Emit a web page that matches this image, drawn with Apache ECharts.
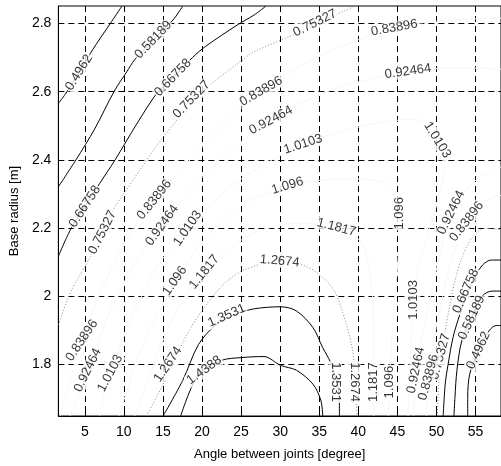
<!DOCTYPE html>
<html><head><meta charset="utf-8">
<script src="https://cdn.jsdelivr.net/npm/echarts@6/dist/echarts.min.js"></script>
<style>html,body{margin:0;padding:0;background:#fff}#c{width:501px;height:466px}</style>
</head><body><div id="c"></div>
<script>
// ---- tick labels ----
const xTicks = [5, 10, 15, 20, 25, 30, 35, 40, 45, 50, 55];
const yTicks = [1.8, 2.0, 2.2, 2.4, 2.6, 2.8];
const xTitle = 'Angle between joints [degree]';
const yTitle = 'Base radius [m]';

// ---- contour lines, [angle, radius] points ----
const c04962_left = [[1.62,2.566],[2.49,2.592],[4.25,2.656],[6.0,2.723],[7.88,2.787],[9.76,2.851]];
const c04962_right = [[59.2,1.914],[57.63,1.914],[56.75,1.899],[55.38,1.841],[54.25,1.771],[54.0,1.704],[54.0,1.649]];
const c058189_left = [[1.62,2.321],[3.87,2.400],[6.25,2.490],[8.76,2.601],[10.39,2.659],[11.39,2.694],[13.77,2.752],[16.28,2.810],[17.53,2.851]];
const c058189_right = [[59.2,2.015],[57.13,2.015],[55.88,2.001],[54.50,1.937],[53.25,1.870],[52.62,1.783],[52.37,1.704],[52.24,1.649]];
const c066758_left = [[1.62,2.117],[3.12,2.193],[5.0,2.263],[6.88,2.330],[8.88,2.400],[11.64,2.505],[14.40,2.601],[16.28,2.641],[18.78,2.700],[20.41,2.732],[24.55,2.796],[26.68,2.825],[28.18,2.851]];
const c066758_right = [[59.2,2.106],[57.01,2.106],[55.88,2.091],[54.50,2.039],[52.99,1.946],[52.12,1.879],[51.49,1.800],[51.12,1.742],[50.86,1.649]];
const c075327_left = [[1.62,1.916],[3.25,2.015],[5.63,2.112],[7.26,2.187],[8.88,2.263],[10.01,2.301],[11.89,2.365],[14.15,2.440],[16.65,2.513],[18.66,2.577],[21.04,2.621],[24.55,2.682],[26.68,2.717],[31.69,2.767],[34.45,2.801],[37.33,2.828],[39.59,2.851]];
const c075327_right = [[59.2,2.193],[56.13,2.199],[54.50,2.170],[53.25,2.112],[52.37,2.045],[51.49,1.946],[50.86,1.864],[50.36,1.777],[50.11,1.649]];
const c083896_top = [[1.87,1.649],[4.62,1.870],[7.26,2.024],[10.39,2.170],[13.90,2.283],[20.41,2.446],[27.56,2.601],[35.45,2.708],[44.60,2.787],[51.74,2.810],[59.2,2.816]];
const c083896_right = [[59.2,2.301],[55.50,2.272],[53.87,2.219],[51.99,2.112],[50.49,1.966],[49.49,1.849],[48.98,1.762],[48.73,1.649]];
const c092464_top = [[3.12,1.649],[5.38,1.783],[7.88,1.937],[11.02,2.082],[14.90,2.208],[21.67,2.388],[28.81,2.516],[36.70,2.606],[46.35,2.659],[52.99,2.670],[59.2,2.665]];
const c092464_right = [[59.2,2.388],[55.25,2.344],[52.99,2.286],[51.87,2.245],[50.74,2.155],[49.49,2.024],[48.23,1.893],[47.36,1.783],[47.11,1.649]];
const c10103 = [[6.88,1.649],[8.26,1.774],[11.02,1.937],[14.15,2.082],[18.16,2.199],[24.17,2.330],[32.94,2.446],[41.72,2.505],[47.36,2.519],[50.11,2.458],[50.99,2.379],[50.24,2.286],[48.73,2.170],[47.48,2.068],[47.11,1.989],[46.73,1.849],[46.35,1.649]];
const c1096 = [[9.39,1.649],[12.27,1.849],[14.77,1.966],[16.65,2.045],[20.41,2.170],[25.43,2.272],[30.94,2.324],[37.96,2.344],[43.60,2.330],[45.23,2.243],[45.10,2.112],[44.47,1.937],[43.97,1.748],[43.85,1.649]];
const c11817 = [[11.39,1.649],[14.15,1.820],[16.65,1.951],[20.29,2.071],[25.43,2.170],[31.69,2.213],[37.21,2.202],[40.46,2.155],[41.72,2.024],[41.97,1.879],[41.97,1.748],[41.97,1.649]];
const c12674 = [[12.89,1.649],[15.03,1.742],[17.53,1.864],[19.54,1.943],[22.67,2.033],[25.43,2.077],[29.94,2.103],[32.94,2.091],[35.08,2.062],[36.95,2.015],[38.33,1.928],[39.21,1.849],[39.59,1.762],[39.84,1.649]];
const c13531 = [[15.03,1.649],[17.53,1.753],[19.54,1.858],[21.67,1.914],[24.17,1.946],[26.68,1.963],[30.06,1.969],[32.07,1.957],[34.20,1.908],[35.45,1.849],[36.45,1.806],[37.08,1.762],[37.58,1.704],[37.58,1.649]];
const c14388 = [[17.28,1.649],[19.54,1.771],[22.54,1.812],[25.05,1.820],[27.93,1.823],[30.06,1.797],[32.07,1.783],[34.20,1.742],[35.20,1.695],[35.45,1.649]];

// ---- contour labels ----
const labelText = ['0.4962','0.58189','0.66758','0.75327','0.75327','0.83896','0.92464','0.83896','0.92464','1.0103','1.096','1.1817','1.0103','1.096','0.92464','0.83896','0.66758','0.58189','0.4962','0.75327','0.83896','0.92464','1.0103','1.096','1.1817','1.2674','1.3531','1.2674','1.3531','1.4388','1.2674','1.1817','1.096','1.0103','0.92464','0.83896','0.75327','0.66758','0.83896','0.92464','1.0103'];
const labelX = [4.25,13.77,16.28,18.66,34.45,44.60,46.35,27.56,28.81,32.94,30.94,37.21,50.11,45.23,51.87,53.87,53.75,54.50,55.38,50.49,48.98,47.36,47.11,43.97,41.97,39.46,37.08,29.94,23.17,20.29,15.65,20.29,16.53,18.16,14.90,13.90,7.26,5.0,4.62,5.38,8.26];
const labelY = [2.656,2.752,2.641,2.577,2.801,2.787,2.659,2.601,2.516,2.446,2.324,2.202,2.458,2.243,2.245,2.219,2.015,1.937,1.841,1.823,1.762,1.783,1.989,1.748,1.748,1.748,1.748,2.103,1.943,1.783,1.800,2.071,2.045,2.199,2.208,2.283,2.187,2.263,1.870,1.783,1.774];
const labelAngle = [58,46,46,46,26,10,8,30,28,18,17,-15,-58,90,64,52,66,65,65,75,75,78,90,90,90,-90,-90,-5,24,36,56,51,55,55,54,51,63,57,56,64,62];

const FONT = '"Liberation Sans", Arial, sans-serif';
const solid = {color:'#000', width:1, type:'solid'};
const dotted = {color:'#8a8a8a', width:1, type:[1,2]};
const faint = {color:'#f6f6f6', width:1, type:'solid'};

const lines = [
  [c04962_left, solid],[c04962_right, solid],
  [c058189_left, solid],[c058189_right, solid],
  [c066758_left, solid],[c066758_right, solid],
  [c075327_left, dotted],[c075327_right, dotted],
  [c083896_top, faint],[c083896_right, faint],
  [c092464_top, faint],[c092464_right, faint],
  [c10103, faint],[c1096, faint],[c11817, faint],
  [c12674, dotted],[c13531, solid],[c14388, solid]
];

const series = lines.map(([d, ls]) => ({
  type:'line', data:d, showSymbol:false, smooth:0.3, lineStyle:ls, silent:true, z:3
}));
series.push({
  type:'scatter', symbolSize:0.01, silent:true, z:10,
  data: labelText.map((t,i)=>({value:[labelX[i],labelY[i]], name:t, label:{rotate:labelAngle[i]}})),
  label:{show:true, position:'inside', formatter:p=>p.name, color:'#000', fontSize:13, fontFamily:FONT, backgroundColor:'#fff', padding:[0,1]}
});

const chart = echarts.init(document.getElementById('c'), null, {renderer:'canvas'});
chart.setOption({
  animation:false,
  backgroundColor:'#fff',
  grid:{left:50, top:6, width:452, height:413, show:true, borderColor:'#000', borderWidth:1, backgroundColor:'#fff'},
  xAxis:{
    type:'value', min:1.617, max:58.26,
    axisLine:{show:true, onZero:false, lineStyle:{color:'#000', width:1}},
    axisTick:{show:true, inside:true, length:4, customValues:xTicks, lineStyle:{color:'#000'}},
    axisLabel:{customValues:xTicks, color:'#000', fontSize:14, fontFamily:FONT, margin:9},
    splitLine:{show:true, lineStyle:{color:'#000', width:1, type:[6,4]}},
    name:xTitle, nameLocation:'middle', nameGap:32,
    nameTextStyle:{color:'#000', fontSize:13, fontFamily:FONT}
  },
  yAxis:{
    type:'value', min:1.6486, max:2.8512,
    axisLine:{show:true, onZero:false, lineStyle:{color:'#000', width:1}},
    axisTick:{show:true, inside:true, length:4, customValues:yTicks, lineStyle:{color:'#000'}},
    axisLabel:{customValues:yTicks, color:'#000', fontSize:14, fontFamily:FONT, margin:7, formatter:v=>String(+(+v).toFixed(1))},
    splitLine:{show:true, lineStyle:{color:'#000', width:1, type:[6,4]}},
    name:yTitle, nameLocation:'middle', nameGap:35,
    nameTextStyle:{color:'#000', fontSize:13, fontFamily:FONT}
  },
  series:series
});
</script></body></html>
